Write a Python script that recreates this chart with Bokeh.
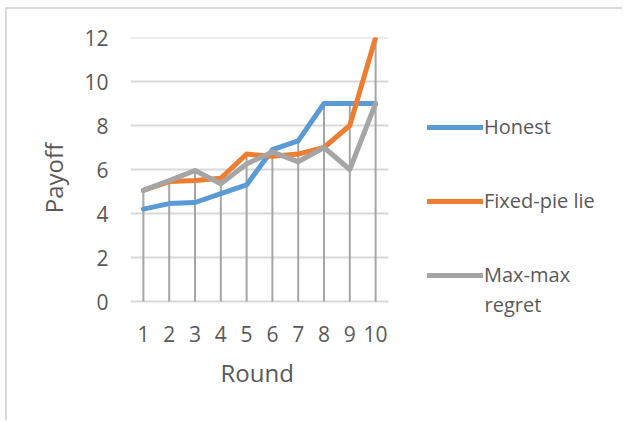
from bokeh.plotting import figure
from bokeh.models import Range1d, FixedTicker, Legend, LegendItem, ColumnDataSource, Label, Title
from bokeh.embed import file_html
from bokeh.resources import INLINE

rounds = [1, 2, 3, 4, 5, 6, 7, 8, 9, 10]
honest = [4.2, 4.45, 4.5, 4.9, 5.3, 6.9, 7.3, 9.0, 9.0, 9.0]
fixed_pie = [5.05, 5.45, 5.5, 5.6, 6.7, 6.6, 6.7, 7.0, 8.0, 12.0]
max_max = [5.05, 5.5, 5.95, 5.35, 6.25, 6.8, 6.35, 7.0, 6.0, 9.0]
series_names = ["Honest", "Fixed-pie lie", "Max-max"]
series_name_extra = "regret"
y_ticks = [0, 2, 4, 6, 8, 10, 12]

colors = ["#5b9bd5", "#ed7d31", "#a5a5a5"]
FONT = "Open Sans"
TXT = "#595959"
GRID = "#d9d9d9"

W, H = 617, 413
LEFT, TOP = 123, 28
UNIT_PX = 25.8       # px per round
Y_PX = 22.0          # px per payoff unit
EXTRA_BELOW = 17     # px of frame below zero line (room for legend text)
BOTTOM = 121 - EXTRA_BELOW
frame_w = W - LEFT
x_lo = rounds[0] - 0.5
x_hi_axis = rounds[-1] + 0.5
x_end = x_lo + frame_w / UNIT_PX
y_lo = y_ticks[0] - EXTRA_BELOW / Y_PX

p = figure(width=W, height=H, x_range=Range1d(x_lo, x_end),
           y_range=Range1d(y_lo, y_ticks[-1]), output_backend="svg", toolbar_location=None,
           min_border_left=LEFT, min_border_top=TOP, min_border_bottom=BOTTOM, min_border_right=0)
p.styles = {"margin-left": "5px", "margin-top": "7px",
            "border-left": "2px solid #d9d9d9", "border-top": "2px solid #d9d9d9"}
p.outline_line_color = None
p.xgrid.grid_line_color = None
p.ygrid.grid_line_color = None
p.yaxis.ticker = FixedTicker(ticks=y_ticks)
p.xaxis.ticker = FixedTicker(ticks=rounds)
p.xaxis.bounds = (x_lo, x_hi_axis)

for ax in (p.xaxis, p.yaxis):
    ax.major_tick_line_color = None
    ax.minor_tick_line_color = None
    ax.major_label_text_font = FONT
    ax.major_label_text_font_size = "21px"
    ax.major_label_text_color = TXT
    ax.axis_label_text_font = FONT
    ax.axis_label_text_font_size = "24px"
    ax.axis_label_text_font_style = "normal"
    ax.axis_label_text_color = TXT
p.yaxis.axis_line_color = None
p.xaxis.axis_line_color = None
p.xaxis.major_label_standoff = 18 - EXTRA_BELOW
p.yaxis.major_label_standoff = 16
p.yaxis.axis_label = "Payoff"
p.yaxis.axis_label_standoff = 11

x_title = Title(text="Round", align="left", offset=90, text_font=FONT,
                text_font_size="24px", text_font_style="normal", text_color=TXT, standoff=18)
p.add_layout(x_title, "below")

# horizontal gridlines limited to the category area
p.segment(x0=[x_lo] * len(y_ticks), x1=[x_hi_axis] * len(y_ticks), y0=y_ticks, y1=y_ticks,
          line_color=GRID, line_width=2)

# drop lines
tops = [max(a, b, c) for a, b, c in zip(honest, fixed_pie, max_max)]
p.segment(x0=rounds, x1=rounds, y0=[0] * len(rounds), y1=tops,
          line_color="#a5a5a5", line_width=2)

renderers = []
for vals, col in zip([honest, fixed_pie, max_max], colors):
    src = ColumnDataSource(dict(x=rounds, y=vals))
    r = p.line("x", "y", source=src, line_color=col, line_width=5,
               line_join="round", line_cap="round")
    renderers.append(r)

legend = Legend(items=[LegendItem(label=n, renderers=[r]) for n, r in zip(series_names, renderers)],
                location=(297, 13 + EXTRA_BELOW), orientation="vertical")
legend.label_text_font = FONT
legend.label_text_font_size = "20px"
legend.label_text_color = TXT
legend.glyph_width = 56
legend.glyph_height = 20
legend.label_standoff = 1
legend.spacing = 47
legend.padding = 0
legend.margin = 0
legend.border_line_color = None
legend.background_fill_alpha = 0
p.add_layout(legend, "center")

extra = Label(x=354, y=-3 + EXTRA_BELOW, x_units="screen", y_units="screen", text=series_name_extra,
              text_font=FONT, text_font_size="20px", text_color=TXT,
              text_baseline="middle", text_align="left")
p.add_layout(extra)

open("out.html", "w").write(file_html(p, INLINE))
